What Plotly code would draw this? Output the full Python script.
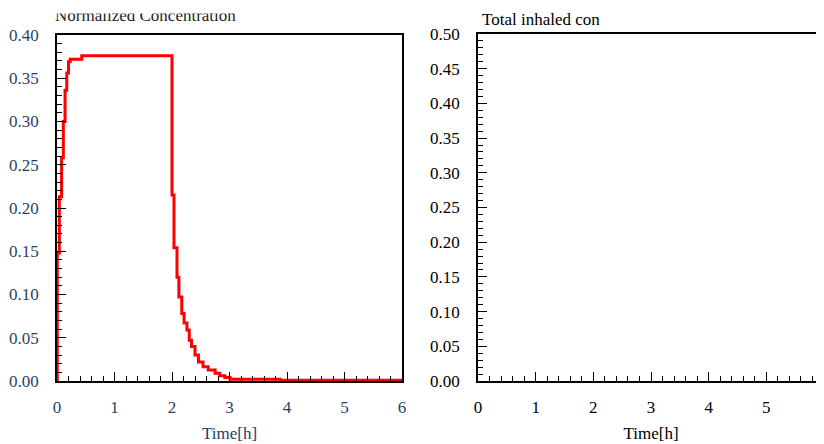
import plotly.graph_objects as go

# ---- data ----
time_h = [0.0, 0.005, 0.04, 0.08, 0.11, 0.14, 0.17, 0.20, 0.23, 0.43,
          2.0, 2.035, 2.087, 2.12, 2.17, 2.21, 2.26, 2.30, 2.34, 2.40,
          2.46, 2.54, 2.63, 2.75, 2.83, 2.92, 3.01, 3.88, 6.0]
norm_conc = [0.0, 0.148, 0.213, 0.258, 0.300, 0.336, 0.356, 0.369, 0.372, 0.376,
             0.215, 0.154, 0.120, 0.097, 0.078, 0.067, 0.059, 0.047, 0.040, 0.030,
             0.022, 0.0165, 0.0127, 0.009, 0.006, 0.004, 0.002, 0.001, 0.001]
inhaled_time = []
inhaled_conc = []
x_ticks = [0, 1, 2, 3, 4, 5, 6]
left_title = "Normalized Concentration"
right_title = "Total inhaled con"
x_title = "Time[h]"

W, H = 824, 444
OFF = 8  # page body margin
FONT = "Liberation Serif, Times New Roman, serif"
LEFT_COL = "#2c3e66"

def px_x(p):
    return (p - OFF) / W

def px_y(p):
    return 1 - (p - OFF) / H

fig = go.Figure()

fig.add_trace(go.Scatter(
    x=time_h, y=norm_conc, mode="lines", line=dict(color="#ff0000", width=3, shape="hv"),
    xaxis="x", yaxis="y", showlegend=False, hoverinfo="skip"))

fig.add_trace(go.Scatter(
    x=inhaled_time, y=inhaled_conc, mode="lines", line=dict(color="#ff0000", width=3),
    xaxis="x2", yaxis="y2", showlegend=False, hoverinfo="skip"))

# clipped title (top of text cut, like the reference)
fig.add_trace(go.Scatter(
    x=[47], y=[-17], mode="text", text=[left_title], textposition="top right",
    textfont=dict(family=FONT, size=17, color="#222222"),
    xaxis="x3", yaxis="y3", showlegend=False, hoverinfo="skip", cliponaxis=True))

common_x = dict(range=[0, 6], tickvals=x_ticks, ticks="inside", ticklen=9, tickwidth=1,
                tickcolor="black", showline=True, linecolor="black", linewidth=1.5,
                mirror=True, showgrid=False, zeroline=False, automargin=False,
                minor=dict(ticks="inside", dtick=0.2, ticklen=5, tickwidth=1, tickcolor="black"),
                ticklabelstandoff=10)
common_y = dict(ticks="inside", ticklen=9, tickwidth=1, tickcolor="black", showline=True,
                linecolor="black", linewidth=1.5, showgrid=False, zeroline=False,
                tickformat=".2f", dtick=0.05, tick0=0, automargin=False,
                minor=dict(ticks="inside", dtick=0.01, ticklen=5, tickwidth=1, tickcolor="black"),
                ticklabelstandoff=13)

fig.update_layout(
    width=W, height=H, autosize=False,
    margin=dict(l=0, r=0, t=0, b=0, autoexpand=False),
    paper_bgcolor="white", plot_bgcolor="white",
    font=dict(family=FONT, size=17, color="black"),
    xaxis=dict(domain=[px_x(57), px_x(402)], anchor="y",
               tickfont=dict(family=FONT, size=17, color=LEFT_COL),
               title=dict(text=x_title, font=dict(family=FONT, size=17, color=LEFT_COL), standoff=11),
               **common_x),
    yaxis=dict(domain=[px_y(381), px_y(35)], anchor="x", range=[0, 0.40], mirror=True,
               tickfont=dict(family=FONT, size=17, color=LEFT_COL), **common_y),
    xaxis2=dict(domain=[px_x(478), px_x(824)], anchor="y2",
                tickfont=dict(family=FONT, size=17, color="black"),
                title=dict(text=x_title, font=dict(family=FONT, size=17, color="black"), standoff=11),
                **common_x),
    yaxis2=dict(domain=[px_y(381), px_y(34)], anchor="x2", range=[0, 0.50], mirror=False,
                tickfont=dict(family=FONT, size=17, color="black"), **common_y),
    xaxis3=dict(domain=[0, px_x(420)], anchor="y3", range=[0, 412], visible=False,
                fixedrange=True, automargin=False),
    yaxis3=dict(domain=[px_y(30), px_y(13.5)], anchor="x3", range=[-22, -5.5], visible=False,
                fixedrange=True, automargin=False),
    annotations=[dict(text=right_title, xref="paper", yref="paper", x=px_x(480), y=px_y(20),
                      xanchor="left", yanchor="middle", showarrow=False,
                      font=dict(family=FONT, size=17, color="black"))],
)

fig.write_html("out.html")
